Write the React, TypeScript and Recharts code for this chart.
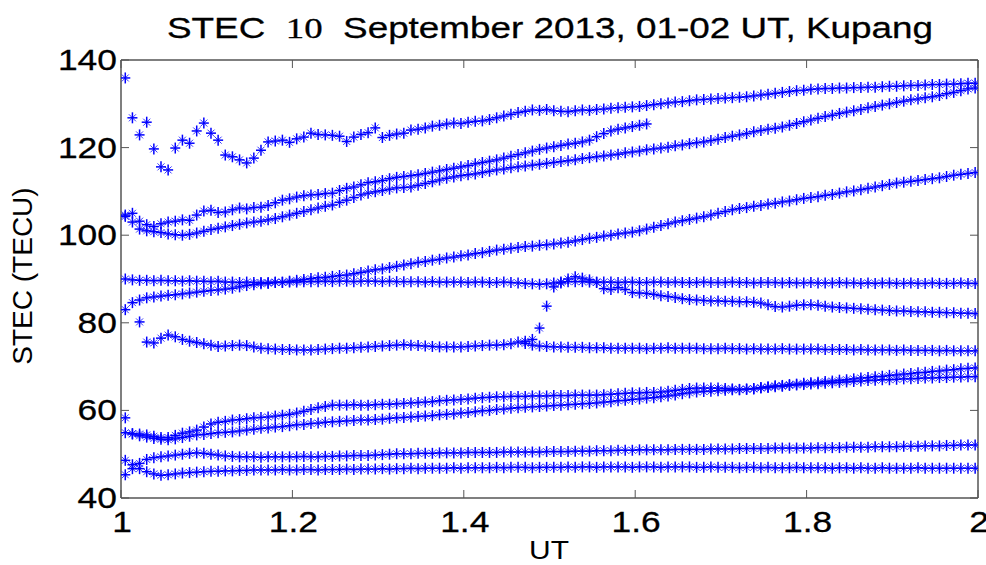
import React from 'react';
import { ScatterChart, Scatter, XAxis, YAxis } from 'recharts';

// 30 s sampling, first epoch shortly after 01:00 UT
const UT_START = 1.005;
const UT_STEP = 1 / 120;

const xTicks = [1, 1.2, 1.4, 1.6, 1.8, 2];
const yTicks = [40, 60, 80, 100, 120, 140];

// each track: [first epoch index, STEC values]
const trackA: number[] = [
  135.9, 126.8, 122.9, 125.8, 119.7, 115.6, 114.9, 119.9, 121.7, 121.0,
  123.8, 125.6, 123.3, 121.7, 118.3, 117.9, 117.2, 116.5, 117.6, 119.4,
  121.3, 121.5, 121.7, 121.2, 122.0, 122.4, 123.3, 123.0, 122.9, 122.8,
  122.6, 121.4, 122.4, 123.0, 123.4, 124.5, 122.3, 122.8, 123.1, 123.3,
  124.0, 124.2, 124.5, 124.9, 125.1, 125.4, 125.6, 125.5, 125.8, 126.0,
  126.1, 126.4, 126.8, 127.2, 127.6, 128.0, 128.3, 128.6, 128.5, 128.7,
  128.4, 128.3, 128.2, 128.4, 128.6, 128.5, 128.7, 128.8, 129.0, 129.1,
  129.2, 129.3, 129.4, 129.6, 129.8, 130.0, 130.2, 130.4, 130.5, 130.7,
  130.9, 131.0, 131.1, 131.2, 131.3, 131.4, 131.5, 131.6, 131.8, 132.0,
  132.2, 132.4, 132.6, 132.8, 133.0, 133.1, 133.3, 133.4, 133.5, 133.5,
  133.6, 133.6, 133.7, 133.7, 133.8, 133.8, 133.9, 134.0, 134.0, 134.1,
  134.2, 134.2, 134.3, 134.4, 134.4, 134.5, 134.5, 134.6, 134.7, 134.7,
];

const trackB: number[] = [
  104.6, 105.0, 103.2, 102.4, 102.0, 102.6, 103.0, 103.2, 103.5, 103.4,
  104.6, 105.5, 105.7, 105.2, 105.3, 105.8, 106.2, 106.0, 106.3, 106.4,
  106.8, 107.4, 108.0, 108.3, 108.7, 109.0, 109.2, 109.3, 109.5, 109.6,
  110.2, 110.7, 111.0, 111.5, 112.0, 112.2, 112.5, 112.9, 113.2, 113.4,
  113.6, 113.8, 114.1, 114.4, 114.7, 115.0, 115.3, 115.6, 115.9, 116.3,
  116.6, 116.9, 117.2, 117.6, 118.0, 118.4, 118.8, 119.2, 119.6, 119.9,
  120.2, 120.5, 120.8, 121.0, 121.3, 121.7, 122.5, 123.2, 123.8, 124.2,
  124.5, 124.8, 125.1, 125.4,
];

const trackC: number[] = [
  104.3, 103.0, 101.4, 101.0, 100.8, 100.6, 100.3, 100.1, 100.0, 100.2,
  100.5, 100.9, 101.3, 101.6, 101.9, 102.2, 102.5, 102.8, 103.0, 103.2,
  103.5, 103.8, 104.2, 104.6, 105.0, 105.4, 105.8, 106.2, 106.6, 106.9,
  107.5, 108.0, 108.6, 109.2, 109.6, 109.9, 110.2, 110.5, 110.8, 110.9,
  111.0, 111.4, 111.8, 112.2, 112.6, 113.0, 113.3, 113.6, 113.8, 114.0,
  114.3, 114.6, 114.9, 115.1, 115.4, 115.6, 115.8, 116.0, 116.2, 116.4,
  116.6, 116.8, 117.0, 117.2, 117.5, 117.7, 117.9, 118.1, 118.3, 118.5,
  118.8, 119.0, 119.2, 119.5, 119.7, 119.9, 120.1, 120.4, 120.6, 120.9,
  121.1, 121.3, 121.6, 121.9, 122.3, 122.6, 122.9, 123.2, 123.6, 123.9,
  124.2, 124.4, 124.7, 125.1, 125.5, 125.9, 126.3, 126.7, 127.1, 127.4,
  127.8, 128.1, 128.4, 128.7, 129.1, 129.4, 129.7, 130.0, 130.3, 130.6,
  130.9, 131.1, 131.4, 131.6, 131.9, 132.3, 132.6, 133.0, 133.4, 133.6,
];

const trackD: number[] = [
  83.0, 84.6, 85.2, 85.7, 85.9, 86.1, 86.3, 86.4, 86.6, 86.8,
  87.0, 87.2, 87.4, 87.5, 87.7, 87.9, 88.2, 88.5, 88.7, 88.9,
  89.0, 89.2, 89.3, 89.5, 89.7, 89.9, 90.1, 90.3, 90.4, 90.6,
  90.8, 90.9, 91.2, 91.5, 91.8, 92.1, 92.3, 92.6, 92.9, 93.2,
  93.5, 93.8, 94.0, 94.3, 94.5, 94.8, 95.0, 95.3, 95.5, 95.8,
  96.0, 96.3, 96.6, 96.8, 97.0, 97.2, 97.4, 97.5, 97.7, 97.8,
  98.0, 98.2, 98.4, 98.7, 99.0, 99.3, 99.5, 99.8, 100.0, 100.3,
  100.5, 100.7, 101.0, 101.4, 101.8, 102.2, 102.6, 103.0, 103.3, 103.6,
  103.9, 104.2, 104.6, 105.0, 105.4, 105.8, 106.1, 106.3, 106.6, 106.8,
  107.1, 107.3, 107.6, 107.8, 108.1, 108.4, 108.6, 108.8, 109.1, 109.3,
  109.6, 109.9, 110.1, 110.4, 110.7, 111.0, 111.3, 111.6, 111.9, 112.1,
  112.3, 112.5, 112.7, 112.9, 113.1, 113.4, 113.7, 113.9, 114.1, 114.3,
];

const trackE: number[] = [
  80.2, 75.6, 75.4, 76.5, 77.2, 76.8, 76.2, 75.8,
  75.5, 75.2, 74.9, 74.6, 74.7, 74.8, 74.9, 74.8, 74.5, 74.2,
  74.1, 74.0, 73.9, 73.9, 73.8, 73.8, 73.8, 73.9, 74.0, 74.1,
  74.2, 74.2, 74.3, 74.4, 74.5, 74.6, 74.7, 74.8, 74.9, 75.0,
  74.9, 74.8, 74.7, 74.6, 74.5, 74.5, 74.5, 74.5, 74.6, 74.7,
  74.8, 74.9, 74.9, 75.0, 75.2, 75.6, 75.3, 74.9, 74.7, 74.6,
  74.5, 74.5, 74.4, 74.4, 74.4, 74.3, 74.3, 74.3, 74.2, 74.2,
  74.2, 74.2, 74.2, 74.1, 74.2, 74.2, 74.3, 74.2, 74.2, 74.2,
  74.2, 74.1, 74.1, 74.1, 74.2, 74.1, 74.1, 74.0, 74.1, 74.0,
  74.0, 74.0, 74.1, 74.0, 74.0, 74.0, 74.0, 74.0, 73.9, 73.9,
  73.9, 73.9, 73.8, 73.9, 73.8, 73.8, 73.8, 73.8, 73.7, 73.8,
  73.7, 73.7, 73.7, 73.7, 73.6, 73.7, 73.6, 73.6, 73.6, 73.6,
];

const trackF: number[] = [
  75.8, 76.2, 78.8, 83.8,
  88.2, 89.1, 90.0, 90.5, 90.2, 89.8, 89.2, 87.8, 87.6, 88.0,
  87.6, 86.9, 86.8, 86.7, 86.5, 86.2, 86.0, 85.8, 85.5, 85.3,
  85.2, 85.1, 85.0, 85.0, 84.9, 84.9, 84.8, 84.8, 84.7, 84.5,
  84.1, 83.7, 83.6, 83.8, 84.0, 84.1, 84.1, 84.0, 83.8, 83.6,
  83.5, 83.4, 83.3, 83.2, 83.1, 83.0, 82.9, 82.8, 82.7, 82.7,
  82.6, 82.5, 82.5, 82.4, 82.4, 82.3, 82.3, 82.2, 82.2, 82.1,
];

const trackG: number[] = [
  90.0, 89.8, 89.7, 89.7, 89.6, 89.7, 89.6, 89.6, 89.5, 89.6,
  89.5, 89.5, 89.4, 89.5, 89.3, 89.3, 89.2, 89.3, 89.2, 89.2,
  89.2, 89.3, 89.2, 89.3, 89.3, 89.4, 89.4, 89.4, 89.5, 89.4,
  89.5, 89.5, 89.4, 89.5, 89.5, 89.5, 89.4, 89.5, 89.4, 89.4,
  89.4, 89.4, 89.3, 89.4, 89.3, 89.3, 89.3, 89.3, 89.2, 89.3,
  89.3, 89.2, 89.2, 89.3, 89.2, 89.1, 89.0, 88.9, 88.8, 88.9,
  89.1, 89.3, 89.4, 89.4, 89.4, 89.3, 89.3, 89.3, 89.3, 89.2,
  89.3, 89.3, 89.2, 89.2, 89.3, 89.3, 89.2, 89.3, 89.2, 89.2,
  89.2, 89.3, 89.2, 89.2, 89.2, 89.3, 89.2, 89.2, 89.1, 89.2,
  89.2, 89.2, 89.1, 89.2, 89.1, 89.1, 89.2, 89.1, 89.1, 89.1,
  89.2, 89.1, 89.1, 89.0, 89.1, 89.0, 89.1, 89.1, 89.0, 89.0,
  89.1, 89.0, 89.0, 89.1, 89.0, 89.0, 89.0, 89.1, 89.0, 89.0,
];

const trackH: number[] = [
  54.9, 54.7, 54.6, 54.4, 54.1, 53.8, 53.8, 54.3, 54.8, 55.1,
  55.5, 56.2, 56.9, 57.3, 57.5, 57.8, 57.9, 58.1, 58.3, 58.4,
  58.5, 58.7, 58.9, 59.1, 59.4, 59.8, 60.2, 60.6, 60.9, 61.2,
  61.2, 61.2, 61.3, 61.2, 61.2, 61.3, 61.4, 61.4, 61.5, 61.6,
  61.7, 61.8, 61.9, 62.0, 62.2, 62.3, 62.4, 62.5, 62.6, 62.8,
  62.9, 63.0, 63.1, 63.1, 63.2, 63.2, 63.2, 63.3, 63.3, 63.3,
  63.4, 63.4, 63.4, 63.5, 63.5, 63.5, 63.5, 63.6, 63.7, 63.8,
  63.9, 64.0, 64.0, 64.1, 64.1, 64.2, 64.4, 64.6, 64.8, 65.0,
  65.1, 65.1, 65.1, 65.1, 65.0, 64.9, 64.8, 64.9, 65.0, 65.2,
  65.4, 65.6, 65.7, 65.9, 66.0, 66.2, 66.3, 66.4, 66.6, 66.7,
  66.9, 67.0, 67.2, 67.4, 67.5, 67.7, 67.8, 68.0, 68.1, 68.3,
  68.4, 68.6, 68.7, 68.9, 69.0, 69.2, 69.3, 69.5, 69.6, 69.7,
];

const trackI: number[] = [
  58.3, 54.6, 54.2, 53.9, 53.6, 53.4, 53.3, 53.5, 53.8, 54.1,
  54.4, 54.5, 54.7, 54.9, 55.0, 55.1, 55.3, 55.5, 55.7, 55.9,
  56.0, 56.2, 56.3, 56.5, 56.7, 56.8, 57.0, 57.1, 57.3, 57.4,
  57.5, 57.6, 57.7, 57.8, 57.8, 57.9, 58.0, 58.2, 58.3, 58.4,
  58.5, 58.6, 58.7, 58.8, 59.0, 59.1, 59.2, 59.4, 59.5, 59.7,
  59.9, 60.0, 60.2, 60.3, 60.5, 60.6, 60.7, 60.8, 60.9, 61.0,
  61.1, 61.2, 61.3, 61.4, 61.5, 61.6, 61.7, 61.9, 62.0, 62.2,
  62.3, 62.5, 62.6, 62.8, 62.9, 63.1, 63.3, 63.5, 63.8, 64.0,
  64.2, 64.3, 64.4, 64.5, 64.6, 64.7, 64.7, 64.8, 64.9, 65.1,
  65.2, 65.4, 65.5, 65.7, 65.8, 65.9, 66.0, 66.1, 66.2, 66.3,
  66.4, 66.5, 66.6, 66.7, 66.8, 66.9, 67.0, 67.0, 67.1, 67.2,
  67.2, 67.3, 67.4, 67.4, 67.5, 67.5, 67.6, 67.6, 67.7, 67.7,
];

const trackJ: number[] = [
  45.3, 46.7, 47.9, 48.8, 49.2, 49.4, 49.6, 49.8, 50.0, 50.2,
  50.3, 50.2, 50.0, 49.8, 49.6, 49.5, 49.4, 49.4, 49.4, 49.3,
  49.4, 49.4, 49.4, 49.4, 49.4, 49.5, 49.4, 49.4, 49.5, 49.5,
  49.6, 49.6, 49.7, 49.7, 49.7, 49.8, 49.9, 50.0, 50.1, 50.1,
  50.1, 50.2, 50.2, 50.2, 50.3, 50.3, 50.3, 50.3, 50.4, 50.4,
  50.4, 50.4, 50.4, 50.5, 50.5, 50.5, 50.5, 50.5, 50.5, 50.6,
  50.6, 50.6, 50.6, 50.7, 50.7, 50.7, 50.8, 50.8, 50.8, 50.9,
  50.9, 50.9, 51.0, 51.0, 51.0, 51.0, 51.0, 51.1, 51.1, 51.1,
  51.1, 51.1, 51.2, 51.2, 51.2, 51.2, 51.3, 51.3, 51.3, 51.3,
  51.3, 51.4, 51.4, 51.4, 51.4, 51.4, 51.4, 51.5, 51.5, 51.5,
  51.5, 51.6, 51.6, 51.6, 51.6, 51.7, 51.7, 51.7, 51.7, 51.8,
  51.8, 51.8, 51.9, 51.9, 51.9, 52.0, 52.0, 52.1, 52.1, 52.1,
];

const trackK: number[] = [
  48.6, 47.6, 46.7, 46.0, 45.5, 45.2, 45.3, 45.5, 45.7, 45.8,
  45.9, 46.0, 46.1, 46.1, 46.2, 46.2, 46.3, 46.3, 46.4, 46.4,
  46.4, 46.4, 46.5, 46.4, 46.4, 46.5, 46.5, 46.4, 46.5, 46.5,
  46.5, 46.6, 46.5, 46.6, 46.6, 46.6, 46.7, 46.6, 46.7, 46.7,
  46.8, 46.7, 46.8, 46.8, 46.8, 46.8, 46.9, 46.8, 46.9, 46.9,
  46.9, 46.9, 47.0, 46.9, 47.0, 47.0, 47.0, 46.9, 47.0, 47.0,
  47.0, 47.0, 47.1, 47.0, 47.1, 47.1, 47.0, 47.1, 47.1, 47.1,
  47.1, 47.0, 47.1, 47.1, 47.1, 47.0, 47.1, 47.1, 47.1, 47.1,
  47.0, 47.0, 47.1, 47.0, 47.0, 47.0, 46.9, 47.0, 47.0, 46.9,
  47.0, 46.9, 46.9, 46.9, 47.0, 46.9, 46.9, 46.9, 46.9, 46.8,
  46.9, 46.9, 46.8, 46.9, 46.8, 46.8, 46.9, 46.8, 46.8, 46.8,
  46.8, 46.9, 46.8, 46.8, 46.8, 46.8, 46.8, 46.8, 46.8, 46.8,
];

const tracks: [number, number[]][] = [
  [0, trackA], [0, trackB], [0, trackC], [0, trackD], [2, trackE], [56, trackF],
  [0, trackG], [0, trackH], [0, trackI], [0, trackJ], [0, trackK],
];

const toPoints = (start: number, values: number[]) =>
  values.map((v, i) => ({ x: UT_START + (start + i) * UT_STEP, y: v }));

const FRAME = '#555';
const BLUE = '#0000ff';
const FONT = '"Liberation Sans", Arial, sans-serif';
const STRETCH = 1.18; // the original figure is widened horizontally

// rough Arial advance widths, used to widen tick labels like the original
const emWidth = (s: string) =>
  s.split('').reduce((w, ch) => w + (ch === '.' ? 0.278 : 0.556), 0);

const Star = (props: any) => {
  const { cx, cy } = props;
  if (cx == null || cy == null) return null;
  return (
    <g stroke={BLUE}>
      <line x1={cx - 5} y1={cy} x2={cx + 5} y2={cy} strokeWidth={1.5} />
      <line x1={cx} y1={cy - 5.5} x2={cx} y2={cy + 5.5} strokeWidth={1.5} />
      <line x1={cx - 3.5} y1={cy - 3.5} x2={cx + 3.5} y2={cy + 3.5} strokeWidth={0.8} />
      <line x1={cx - 3.5} y1={cy + 3.5} x2={cx + 3.5} y2={cy - 3.5} strokeWidth={0.8} />
    </g>
  );
};

const fmt = (v: number) => String(Number(v.toFixed(1)));

const TickText = ({ x, y, anchor, label }: { x: number; y: number; anchor: string; label: string }) => (
  <text
    x={x} y={y} textAnchor={anchor} fontSize={30} fontFamily={FONT} fill="#000"
    stroke="#000" strokeWidth={0.3}
    textLength={emWidth(label) * 30 * STRETCH} lengthAdjust="spacingAndGlyphs"
  >
    {label}
  </text>
);

const BottomTick = (props: any) => {
  const { x, y, payload } = props;
  return (
    <g>
      <line x1={x} y1={y} x2={x} y2={y - 8} stroke={FRAME} />
      <TickText x={x + 1} y={y + 34} anchor="middle" label={fmt(payload.value)} />
    </g>
  );
};

const TopTick = (props: any) => {
  const { x, y } = props;
  return <line x1={x} y1={y} x2={x} y2={y + 8} stroke={FRAME} />;
};

const LeftTick = (props: any) => {
  const { x, y, payload } = props;
  return (
    <g>
      <line x1={x} y1={y} x2={x + 8} y2={y} stroke={FRAME} />
      <TickText x={x - 4} y={y + 10} anchor="end" label={String(payload.value)} />
    </g>
  );
};

const RightTick = (props: any) => {
  const { x, y } = props;
  return <line x1={x} y1={y} x2={x - 8} y2={y} stroke={FRAME} />;
};

export default function App() {
  return (
    <div style={{ position: 'absolute', left: 0, top: 0, width: 986, height: 565, background: '#fff' }}>
      <ScatterChart width={986} height={565} margin={{ top: 50, right: 0, bottom: 27, left: 0 }}>
        <XAxis
          xAxisId="bottom" type="number" dataKey="x" domain={[1, 2]} ticks={xTicks}
          allowDataOverflow height={40} tickSize={0} tickMargin={0} tickLine={false}
          axisLine={{ stroke: FRAME, strokeWidth: 1.5 }} tick={<BottomTick />} interval={0}
        />
        <XAxis
          xAxisId="top" orientation="top" type="number" dataKey="x" domain={[1, 2]} ticks={xTicks}
          allowDataOverflow height={10} tickSize={0} tickMargin={0} tickLine={false}
          axisLine={{ stroke: FRAME, strokeWidth: 1.5 }} tick={<TopTick />} interval={0}
        />
        <YAxis
          yAxisId="left" type="number" dataKey="y" domain={[40, 140]} ticks={yTicks}
          allowDataOverflow width={121} tickSize={0} tickMargin={0} tickLine={false}
          axisLine={{ stroke: FRAME, strokeWidth: 1.5 }} tick={<LeftTick />} interval={0}
        />
        <YAxis
          yAxisId="right" orientation="right" type="number" dataKey="y" domain={[40, 140]} ticks={yTicks}
          allowDataOverflow width={8} tickSize={0} tickMargin={0} tickLine={false}
          axisLine={{ stroke: FRAME, strokeWidth: 1.5 }} tick={<RightTick />} interval={0}
        />
        {tracks.map(([start, values], k) => (
          <Scatter
            key={k}
            xAxisId="bottom"
            yAxisId="left"
            data={toPoints(start, values)}
            shape={<Star />}
            isAnimationActive={false}
          />
        ))}
      </ScatterChart>
      <svg width={986} height={565} style={{ position: 'absolute', left: 0, top: 0, pointerEvents: 'none' }}>
        <text
          x={167} y={38} fontSize={30} fontFamily={FONT} fill="#000" stroke="#000" strokeWidth={0.3}
          textLength={766} lengthAdjust="spacingAndGlyphs"
        >
          STEC{'\u00a0\u00a0'}<tspan fontFamily='"Liberation Serif", "Times New Roman", serif'>10</tspan>{'\u00a0\u00a0'}September 2013, 01-02 UT, Kupang
        </text>
        <text
          x={549} y={559} textAnchor="middle" fontSize={26} fontFamily={FONT} fill="#000"
          textLength={40} lengthAdjust="spacingAndGlyphs"
        >
          UT
        </text>
        <text
          x={0} y={0} transform="translate(32,276) rotate(-90)" textAnchor="middle"
          fontSize={28} fontFamily={FONT} fill="#000"
        >
          STEC (TECU)
        </text>
      </svg>
    </div>
  );
}
